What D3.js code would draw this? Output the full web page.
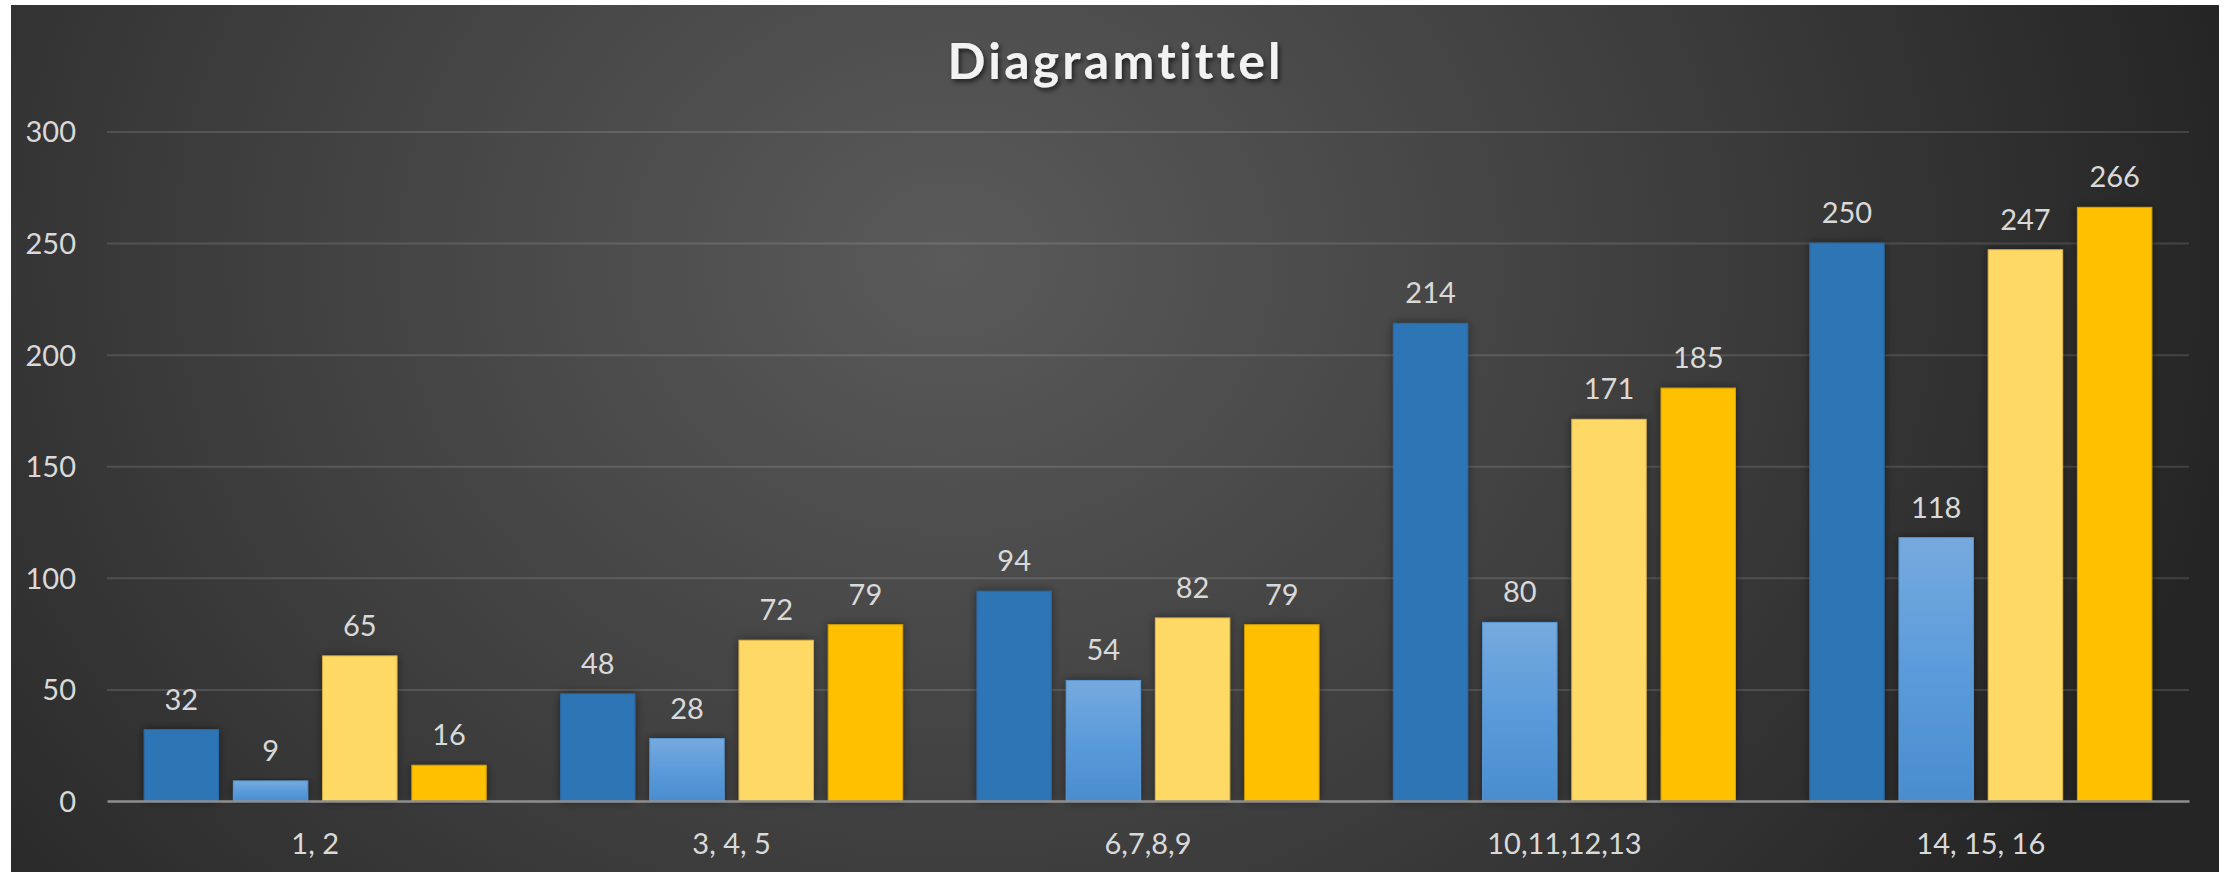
<!DOCTYPE html>
<html>
<head>
<meta charset="utf-8">
<script src="https://cdn.jsdelivr.net/npm/d3@7"></script>
<style>
  html, body { margin: 0; padding: 0; background: #ffffff; }
  svg { display: block; }
  text { font-family: Lato, "Open Sans", sans-serif; font-variant-ligatures: none; font-feature-settings: "liga" 0, "clig" 0; }
</style>
</head>
<body>
<svg id="chart" width="2231" height="872"></svg>
<script>
// ---- data ----
const title = "Diagramtittel";
const categories = ["1, 2", "3, 4, 5", "6,7,8,9", "10,11,12,13", "14, 15, 16"];
const seriesNames = ["Serie 1", "Serie 2", "Serie 3", "Serie 4"];
const series1 = [32, 48, 94, 214, 250];
const series2 = [9, 28, 54, 80, 118];
const series3 = [65, 72, 82, 171, 247];
const series4 = [16, 79, 79, 185, 266];
const yTicks = [0, 50, 100, 150, 200, 250, 300];
const seriesColors = ["#2E74B5", "url(#lightBlue)", "#FFD966", "#FFC000"];
const seriesStrokes = ["#2a6aa6", "#5a97d2", "#e0b94a", "#d9a300"];

const allSeries = [series1, series2, series3, series4];

// ---- layout ----
const W = 2231, H = 872;
const bg = { x: 11, y: 5, w: 2208, h: 867 };
const plot = { left: 107, right: 2189, top: 131.5, bottom: 801 };

const svg = d3.select("#chart");
const defs = svg.append("defs");

const rg = defs.append("radialGradient")
  .attr("id", "bgGrad").attr("gradientUnits", "userSpaceOnUse")
  .attr("cx", 950).attr("cy", 260).attr("r", 1300)
  .attr("gradientTransform", "translate(950,260) scale(1,0.85) translate(-950,-260)");
rg.append("stop").attr("offset", "0").attr("stop-color", "#5a5a5a");
rg.append("stop").attr("offset", "0.55").attr("stop-color", "#3e3e3e");
rg.append("stop").attr("offset", "1").attr("stop-color", "#252525");

const lb = defs.append("linearGradient").attr("id", "lightBlue")
  .attr("x1", 0).attr("y1", 0).attr("x2", 0).attr("y2", 1);
lb.append("stop").attr("offset", "0").attr("stop-color", "#76aade");
lb.append("stop").attr("offset", "0.5").attr("stop-color", "#5b9bdb");
lb.append("stop").attr("offset", "1").attr("stop-color", "#4a8dcf");

const sh = defs.append("filter").attr("id", "barShadow")
  .attr("x", "-30%").attr("y", "-10%").attr("width", "160%").attr("height", "120%");
sh.append("feDropShadow").attr("dx", 0).attr("dy", 0).attr("stdDeviation", 5)
  .attr("flood-color", "#000").attr("flood-opacity", 0.45);

const ts = defs.append("filter").attr("id", "titleShadow")
  .attr("x", "-10%").attr("y", "-30%").attr("width", "120%").attr("height", "160%");
ts.append("feDropShadow").attr("dx", 2).attr("dy", 3).attr("stdDeviation", 2.5)
  .attr("flood-color", "#000").attr("flood-opacity", 0.6);

// background
svg.append("rect").attr("x", bg.x).attr("y", bg.y).attr("width", bg.w).attr("height", bg.h)
  .attr("fill", "url(#bgGrad)");

// scales
const x = d3.scaleBand().domain(categories).range([plot.left, plot.right]).padding(0);
const xs = d3.scaleBand().domain(seriesNames).range([0, x.bandwidth()])
  .paddingInner(1 / 6).paddingOuter(5 / 12);
const y = d3.scaleLinear().domain([0, 300]).range([plot.bottom, plot.top]);

// grid + y labels
const yAxis = svg.append("g").attr("transform", `translate(${plot.left},0)`)
  .call(d3.axisLeft(y).tickValues(yTicks).tickSize(-(plot.right - plot.left)).tickPadding(31));
yAxis.select(".domain").remove();
yAxis.selectAll(".tick line").attr("stroke", "rgba(255,255,255,0.13)").attr("stroke-width", 2)
  .filter(d => d === 0).remove();
yAxis.selectAll(".tick text").attr("fill", "#d9d9d9").attr("font-size", 29)
  .attr("font-family", "Lato, sans-serif").attr("dy", "0.36em");

// bars
const groups = svg.append("g").selectAll("g").data(categories).join("g")
  .attr("transform", d => `translate(${x(d)},0)`);

groups.each(function (cat, ci) {
  const g = d3.select(this);
  const rows = seriesNames.map((s, si) => ({ s, si, v: allSeries[si][ci] }));
  g.selectAll("rect").data(rows).join("rect")
    .attr("x", d => xs(d.s))
    .attr("y", d => y(d.v))
    .attr("width", xs.bandwidth())
    .attr("height", d => y(0) - y(d.v))
    .attr("fill", d => seriesColors[d.si])
    .attr("stroke", d => seriesStrokes[d.si])
    .attr("stroke-width", 1)
    .attr("filter", "url(#barShadow)");
  g.selectAll("text.lbl").data(rows).join("text").attr("class", "lbl")
    .attr("x", d => xs(d.s) + xs.bandwidth() / 2)
    .attr("y", d => y(d.v) - 20)
    .attr("text-anchor", "middle")
    .attr("fill", "#d9d9d9")
    .attr("font-size", 29)
    .text(d => d.v);
});

// x axis
const xAxis = svg.append("g").attr("transform", `translate(0,${plot.bottom})`)
  .call(d3.axisBottom(x).tickSize(0).tickPadding(32));
xAxis.select(".domain").attr("stroke", "#8f8f8f").attr("stroke-width", 2.5);
xAxis.selectAll(".tick text").attr("fill", "#d9d9d9").attr("font-size", 29)
  .attr("font-family", "Lato, sans-serif");

// title
svg.append("text")
  .attr("x", 1114).attr("y", 79)
  .attr("text-anchor", "middle")
  .attr("fill", "#f2f2f2")
  .attr("font-size", 50)
  .attr("font-weight", 700)
  .attr("textLength", 333)
  .attr("lengthAdjust", "spacing")
  .attr("filter", "url(#titleShadow)")
  .text(title);
</script>
</body>
</html>
